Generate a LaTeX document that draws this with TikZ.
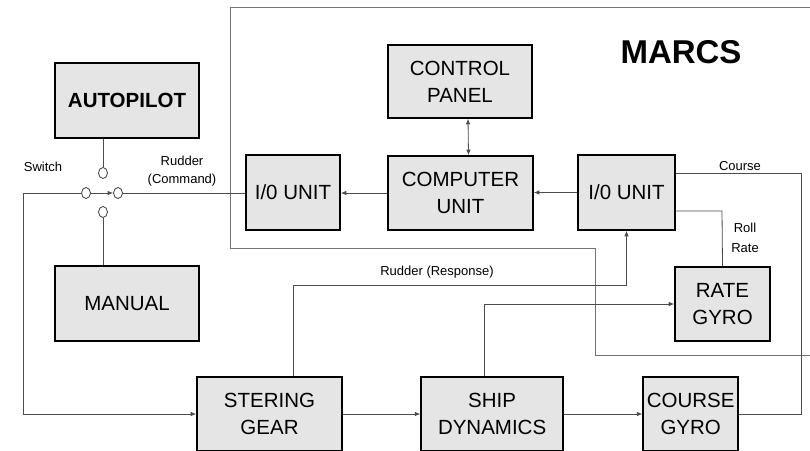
\documentclass[tikz,border=0pt]{standalone}
\usepackage{fontspec}
\setmainfont{Liberation Sans}
\usetikzlibrary{arrows.meta,positioning,shapes.geometric}

\begin{document}
\begin{tikzpicture}[
  x=1pt, y=-1pt,
  font=\fontsize{13}{19}\selectfont,
  block/.style={draw=black, line width=1.6pt, fill=gray!20, align=center, inner sep=0pt,
    minimum height=75pt, font=\fontsize{20.5}{27}\selectfont},
  contact/.style={draw=black!75, ellipse, line width=0.8pt, fill=white,
    minimum width=9pt, minimum height=11pt, inner sep=0pt},
  wire/.style={draw=black!70, line width=0.8pt},
  arrow/.style={wire, -{Latex[length=5.5pt,width=4.5pt]}},
  biarrow/.style={wire, {Latex[length=5.5pt,width=4.5pt]}-{Latex[length=5.5pt,width=4.5pt]}},
  outline/.style={draw=black!55, line width=0.8pt}
]
\useasboundingbox (0,0) rectangle (810,450);

% MARCS boundary
\draw[outline] (810,7) -- (230,7) -- (230,248) -- (595,248) -- (595,355) -- (810,355);
\node[font=\bfseries\fontsize{33}{36}\selectfont] (marcs) at (681,52) {MARCS};

% blocks
\node[block, minimum width=144pt] (auto) at (127,100.5) {\textbf{AUTOPILOT}};
\node[block, minimum width=144pt] (manual) at (127,303.5) {MANUAL};
\node[block, minimum width=94pt] (iol) at (293,192.5) {I/0 UNIT};
\node[block, minimum width=145pt, minimum height=74pt] (comp) at (460.5,193) {COMPUTER\\UNIT};
\node[block, minimum width=144pt, minimum height=73pt] (panel) at (460,81.5) {CONTROL\\PANEL};
\node[block, minimum width=97pt] (ior) at (626.5,192.5) {I/0 UNIT};
\node[block, minimum width=95pt, minimum height=74pt] (rate) at (722.5,304) {RATE\\GYRO};
\node[block, minimum width=145pt, minimum height=74pt] (steer) at (269.5,414) {STERING\\GEAR};
\node[block, minimum width=142pt, minimum height=74pt, right=77.5pt of steer] (ship) {SHIP\\DYNAMICS};
\node[block, minimum width=95pt, minimum height=74pt, right=78.5pt of ship] (cgyro) {COURSE\\GYRO};

% switch
\node[contact] (swt) at (103,173) {};
\node[contact] (swl) at (86,193) {};
\node[contact] (swr) at (118,193) {};
\node[contact] (swb) at (103,212) {};
\node (swlbl) at (43,167) {Switch};

% coordinates for bends
\coordinate (lft) at (23,193);
\coordinate (respup) at (293,285);
\coordinate (shipup) at (484,304);
\coordinate (roll) at (722,211);
\coordinate (crs) at (801,173);

% connectors
\draw[wire] (swt.north) -- (swt.north |- auto.south);
\draw[wire] (swb.south) -- (swb.south |- manual.north);
\draw[arrow] (swl) -- (swr);
\draw[wire] (swr) -- (swr -| iol.west);
\draw[arrow] (swl.west) -- (lft) |- (steer.west);
\draw[arrow] (comp.west) -- (comp.west -| iol.east);
\draw[arrow] (ior.west) -- (ior.west -| comp.east);
\draw[biarrow] ([xshift=8pt]panel.south) -- ([xshift=8pt]comp.north);
\draw[arrow] (steer) -- (ship);
\draw[arrow] (ship) -- (cgyro);
\draw[arrow] (respup |- steer.north) -- (respup) -| (ior.south);
\draw[arrow] (shipup |- ship.north) -- (shipup) -- (rate.west);
\draw[wire] (ior.east |- roll) -- (roll) -- (rate.north);
\draw[wire] (cgyro.east) -| (crs) -- (ior.east |- crs);

% labels
\node[align=center, font=\fontsize{13}{18}\selectfont] (cmdlbl) at (182,171) {Rudder\\(Command)};
\node (resplbl) at (437,272) {Rudder (Response)};
\node[align=center, font=\fontsize{13}{20}\selectfont] (rolllbl) at (745,238) {Roll\\Rate};
\node (crslbl) at (740,166) {Course};
\end{tikzpicture}
\end{document}
